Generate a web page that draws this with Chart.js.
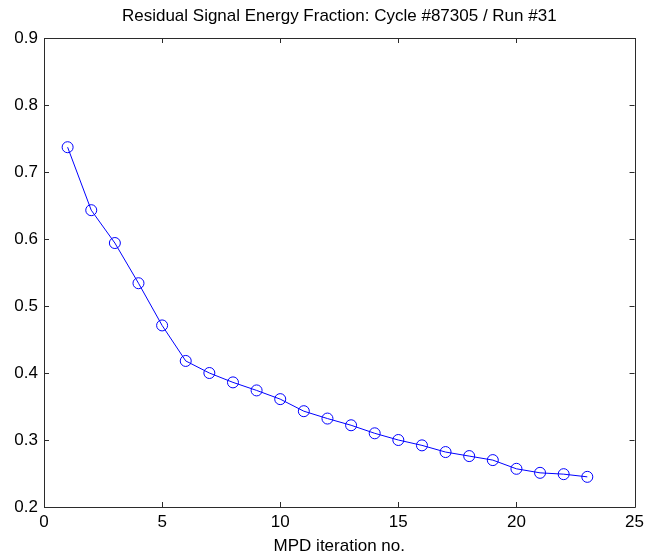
<!DOCTYPE html>
<html>
<head>
<meta charset="utf-8">
<script src="https://cdn.jsdelivr.net/npm/chart.js@4"></script>
<style>
  html, body { margin: 0; padding: 0; background: #fff; }
  #wrap { width: 649px; height: 557px; }
</style>
</head>
<body>
<div id="wrap"><canvas id="residualChart" width="649" height="557"></canvas></div>
<script>
// data
const iterations = [1, 2, 3, 4, 5, 6, 7, 8, 9, 10, 11, 12, 13, 14, 15, 16, 17, 18, 19, 20, 21, 22, 23];
const energyFraction = [0.737, 0.643, 0.594, 0.534, 0.471, 0.418, 0.400, 0.386, 0.374, 0.361, 0.343, 0.332,
    0.322, 0.310, 0.300, 0.292, 0.282, 0.276, 0.270, 0.257, 0.251, 0.249, 0.245];
const xTicks = [0, 5, 10, 15, 20, 25];
const yTicks = [0.2, 0.3, 0.4, 0.5, 0.6, 0.7, 0.8, 0.9];

const titleText = "Residual Signal Energy Fraction: Cycle #87305 / Run #31";
const xLabel = "MPD iteration no.";

const FONT = "'Liberation Sans', Arial, sans-serif";
const FRAME = "#2b2b2b";

// matlab style box with ticks pointing inward
const boxPlugin = {
    id: "boxTicks",
    afterDraw(chart) {
        const { ctx, chartArea: a, scales: { x, y } } = chart;
        const len = 5;
        ctx.save();
        ctx.strokeStyle = FRAME;
        ctx.lineWidth = 1;
        ctx.beginPath();
        ctx.rect(Math.round(a.left) + 0.5, Math.round(a.top) + 0.5,
            Math.round(a.right - a.left), Math.round(a.bottom - a.top));
        xTicks.forEach(v => {
            const px = Math.round(x.getPixelForValue(v)) + 0.5;
            ctx.moveTo(px, a.bottom); ctx.lineTo(px, a.bottom - len);
            ctx.moveTo(px, a.top); ctx.lineTo(px, a.top + len);
        });
        yTicks.forEach(v => {
            const py = Math.round(y.getPixelForValue(v)) + 0.5;
            ctx.moveTo(a.left, py); ctx.lineTo(a.left + len, py);
            ctx.moveTo(a.right, py); ctx.lineTo(a.right - len, py);
        });
        ctx.stroke();
        ctx.restore();
    }
};

const ctx = document.getElementById("residualChart").getContext("2d");

new Chart(ctx, {
    type: "line",
    data: {
        datasets: [{
            data: iterations.map((it, i) => ({ x: it, y: energyFraction[i] })),
            borderColor: "#0000ff",
            borderWidth: 1,
            backgroundColor: "transparent",
            pointStyle: "circle",
            pointRadius: 5.5,
            pointBorderWidth: 1,
            pointBorderColor: "#0000ff",
            pointBackgroundColor: "transparent",
            tension: 0,
            fill: false
        }]
    },
    options: {
        responsive: false,
        animation: false,
        layout: { padding: { left: 0, right: 0, top: 0, bottom: 0 } },
        plugins: {
            legend: { display: false },
            tooltip: { enabled: false },
            title: {
                display: true,
                text: titleText,
                fullSize: false,
                color: "#000",
                font: { family: FONT, size: 17, weight: "normal" },
                padding: { top: 6, bottom: 11.6 }
            }
        },
        scales: {
            x: {
                type: "linear",
                min: 0,
                max: 25,
                afterBuildTicks: s => { s.ticks = xTicks.map(v => ({ value: v })); },
                afterFit: s => { s.height = 50; },
                grid: { display: false, drawTicks: false },
                border: { display: false },
                ticks: { color: "#000", padding: 5, maxRotation: 0, font: { family: FONT, size: 17 } },
                title: {
                    display: true,
                    text: xLabel,
                    color: "#000",
                    font: { family: FONT, size: 17 },
                    padding: { top: 0, bottom: 0 }
                }
            },
            y: {
                min: 0.2,
                max: 0.9,
                afterBuildTicks: s => { s.ticks = yTicks.map(v => ({ value: v })); },
                afterFit: s => { s.width = 44; },
                grid: { display: false, drawTicks: false },
                border: { display: false },
                ticks: {
                    color: "#000",
                    padding: 6,
                    font: { family: FONT, size: 17 },
                    callback: v => v.toFixed(1)
                }
            }
        }
    },
    plugins: [boxPlugin]
});
</script>
</body>
</html>
